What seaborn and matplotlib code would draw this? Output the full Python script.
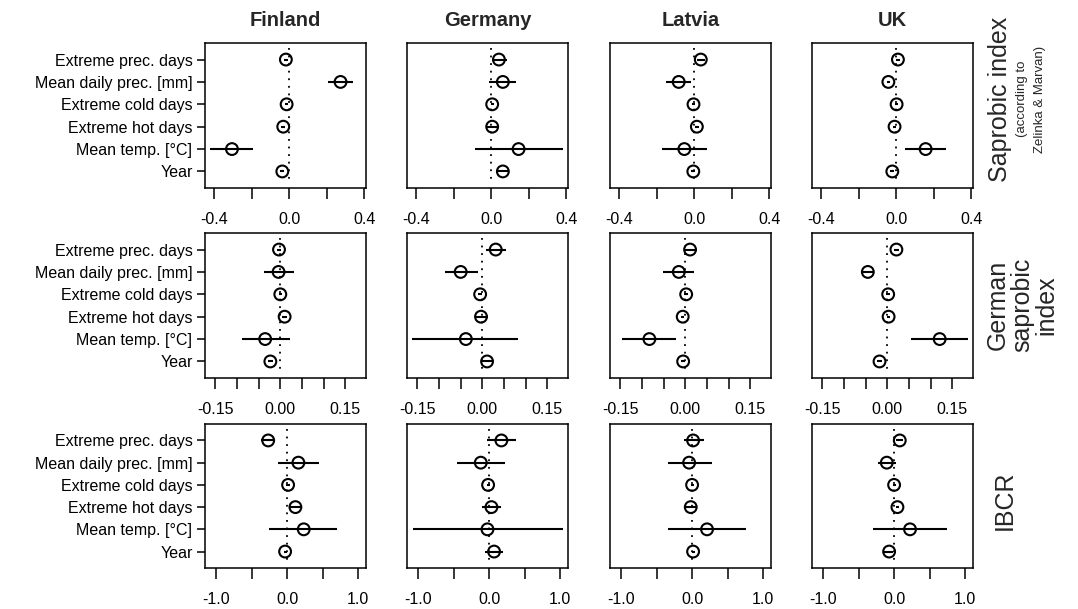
import matplotlib
matplotlib.use("Agg")
import matplotlib.pyplot as plt
import pandas as pd
import seaborn as sns

sns.set_theme(style="white")
plt.rcParams["font.family"] = ["Liberation Sans", "DejaVu Sans"]

predictors = ["Extreme prec. days", "Mean daily prec. [mm]", "Extreme cold days",
              "Extreme hot days", "Mean temp. [°C]", "Year"]
countries = ["Finland", "Germany", "Latvia", "UK"]
indices = ["sap", "gsi", "ibcr"]

# Saprobic index (Zelinka & Marvan): estimate, lower and upper limit per predictor
sap_finland_est = [-0.018, 0.274, -0.014, -0.032, -0.306, -0.037]
sap_finland_lo = [-0.028, 0.207, -0.022, -0.042, -0.421, -0.047]
sap_finland_hi = [-0.008, 0.343, -0.006, -0.022, -0.195, -0.027]
sap_germany_est = [0.041, 0.062, 0.005, 0.005, 0.146, 0.062]
sap_germany_lo = [0.005, -0.012, -0.003, -0.023, -0.085, 0.036]
sap_germany_hi = [0.085, 0.133, 0.013, 0.036, 0.382, 0.089]
sap_latvia_est = [0.035, -0.083, -0.004, 0.014, -0.053, -0.005]
sap_latvia_lo = [0.014, -0.150, -0.012, 0.004, -0.171, -0.015]
sap_latvia_hi = [0.058, -0.018, 0.004, 0.024, 0.067, 0.005]
sap_uk_est = [0.009, -0.042, 0.002, -0.009, 0.157, -0.021]
sap_uk_lo = [-0.001, -0.052, -0.006, -0.019, 0.049, -0.031]
sap_uk_hi = [0.019, -0.032, 0.010, 0.001, 0.265, -0.011]

# German saprobic index
gsi_finland_est = [-0.003, -0.004, 0.000, 0.010, -0.035, -0.023]
gsi_finland_lo = [-0.008, -0.037, -0.004, 0.005, -0.089, -0.028]
gsi_finland_hi = [0.002, 0.031, 0.004, 0.015, 0.022, -0.018]
gsi_germany_est = [0.031, -0.050, -0.005, -0.003, -0.038, 0.011]
gsi_germany_lo = [0.009, -0.087, -0.009, -0.018, -0.162, -0.002]
gsi_germany_hi = [0.054, -0.010, -0.001, 0.013, 0.082, 0.025]
gsi_latvia_est = [0.011, -0.015, 0.002, -0.006, -0.083, -0.005]
gsi_latvia_lo = [-0.004, -0.052, -0.002, -0.010, -0.146, -0.009]
gsi_latvia_hi = [0.028, 0.019, 0.006, -0.002, -0.022, -0.001]
gsi_uk_est = [0.021, -0.045, 0.002, 0.003, 0.121, -0.018]
gsi_uk_lo = [0.016, -0.058, -0.002, -0.001, 0.055, -0.023]
gsi_uk_hi = [0.026, -0.033, 0.006, 0.007, 0.186, -0.013]

# IBCR
ibcr_finland_est = [-0.266, 0.159, 0.014, 0.117, 0.234, -0.028]
ibcr_finland_lo = [-0.364, -0.131, -0.010, 0.037, -0.248, -0.050]
ibcr_finland_hi = [-0.164, 0.453, 0.038, 0.210, 0.700, -0.006]
ibcr_germany_est = [0.173, -0.117, -0.014, 0.033, -0.023, 0.070]
ibcr_germany_lo = [-0.028, -0.445, -0.035, -0.098, -1.077, -0.051]
ibcr_germany_hi = [0.375, 0.220, 0.007, 0.173, 1.040, 0.197]
ibcr_latvia_est = [0.014, -0.042, 0.000, -0.019, 0.210, 0.014]
ibcr_latvia_lo = [-0.112, -0.337, -0.020, -0.103, -0.337, -0.006]
ibcr_latvia_hi = [0.164, 0.285, 0.020, 0.075, 0.754, 0.034]
ibcr_uk_est = [0.080, -0.103, 0.000, 0.047, 0.224, -0.070]
ibcr_uk_lo = [0.033, -0.224, -0.020, 0.025, -0.290, -0.140]
ibcr_uk_hi = [0.131, 0.023, 0.020, 0.069, 0.738, -0.009]

# Axis ticks and labels per index row
sap_ticks = [-0.4, -0.2, 0.0, 0.2, 0.4]
sap_ticklabels = ["-0.4", "", "0.0", "", "0.4"]
gsi_ticks = [-0.15, -0.10, -0.05, 0.0, 0.05, 0.10, 0.15]
gsi_ticklabels = ["-0.15", "", "", "0.00", "", "", "0.15"]
ibcr_ticks = [-1.0, -0.5, 0.0, 0.5, 1.0]
ibcr_ticklabels = ["-1.0", "", "0.0", "", "1.0"]

ns = globals()
rows = []
for idx in indices:
    for country in countries:
        key = f"{idx}_{country.lower()}"
        for i, pred in enumerate(predictors):
            rows.append(dict(index=idx, country=country, predictor=pred, pos=i + 1,
                             est=ns[key + "_est"][i], lo=ns[key + "_lo"][i],
                             hi=ns[key + "_hi"][i]))
df = pd.DataFrame(rows)

W, H = 1078, 609
fig = plt.figure(figsize=(W / 100, H / 100), dpi=100)

col_left = [205, 407, 610, 812]
panel_w = 161
row_top = [43, 233, 424]
panel_h = [145, 145, 144]
xlims = {"sap": (-0.45, 0.41), "gsi": (-0.174, 0.198), "ibcr": (-1.155, 1.11)}
ticks = {"sap": (sap_ticks, sap_ticklabels), "gsi": (gsi_ticks, gsi_ticklabels),
         "ibcr": (ibcr_ticks, ibcr_ticklabels)}

for r, idx in enumerate(indices):
    for c, country in enumerate(countries):
        left = col_left[c] / W
        bottom = 1 - (row_top[r] + panel_h[r]) / H
        ax = fig.add_axes([left, bottom, panel_w / W, panel_h[r] / H])
        sub = df[(df["index"] == idx) & (df["country"] == country)]

        ax.vlines(0, 0.5, 6.5, colors="black", linestyles=(0, (1, 3.2)), lw=1.3, zorder=1)
        ax.hlines(sub["pos"], sub["lo"], sub["hi"], colors="black", lw=1.5, zorder=2)
        sns.scatterplot(data=sub, x="est", y="pos", ax=ax, marker="o", s=72,
                        facecolors="none", edgecolor="black", linewidth=1.5, zorder=3)

        ax.set_xlim(*xlims[idx])
        ax.set_ylim(6.74, 0.26)
        ax.set_xlabel("")
        ax.set_ylabel("")
        tv, tl = ticks[idx]
        ax.set_xticks(tv)
        ax.set_xticklabels(tl)
        ax.tick_params(axis="x", bottom=True, direction="out", length=8, width=1.1,
                       pad=9, labelsize=11.5, colors="black")
        if c == 0:
            ax.set_yticks(range(1, 7))
            ax.set_yticklabels(predictors)
            ax.tick_params(axis="y", left=True, direction="out", length=6, width=1.1,
                           pad=3, labelsize=11.5, colors="black")
        else:
            ax.set_yticks([])
        for sp in ax.spines.values():
            sp.set_color("black")
            sp.set_linewidth(1.1)
        if r == 0:
            ax.set_title(country, fontsize=14.5, fontweight="bold", pad=12)

# Row labels on the right
fig.text(1000 / W, 1 - 99 / H, "Saprobic index", rotation=90, fontsize=18,
         ha="center", va="center")
fig.text(1022 / W, 1 - 99 / H, "(according to", rotation=90, fontsize=9.5,
         ha="center", va="center")
fig.text(1040 / W, 1 - 99 / H, "Zelinka & Marvan)", rotation=90, fontsize=9.5,
         ha="center", va="center")
fig.text(1022 / W, 1 - 305 / H, "German\nsaprobic\nindex", rotation=90, fontsize=18,
         ha="center", va="center", multialignment="center", linespacing=1.0)
fig.text(1005 / W, 1 - 500 / H, "IBCR", rotation=90, fontsize=18,
         ha="center", va="center")

fig.savefig("out.png", dpi=100, facecolor="white")
